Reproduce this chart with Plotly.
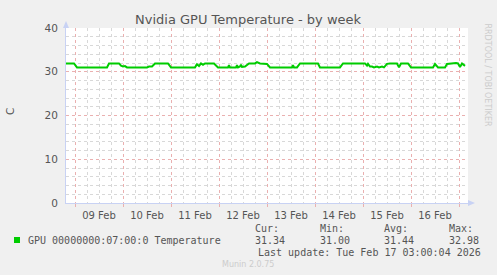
import plotly.graph_objects as go

# ---- data ----
times = [
    "2026-02-08 19:30", "2026-02-08 23:30", "2026-02-09 01:00", "2026-02-09 16:00",
    "2026-02-09 17:00", "2026-02-09 22:00", "2026-02-09 23:00", "2026-02-10 00:00",
    "2026-02-10 01:00", "2026-02-10 02:00", "2026-02-10 12:00", "2026-02-10 13:00",
    "2026-02-10 14:30", "2026-02-10 16:00", "2026-02-10 22:30", "2026-02-11 00:00",
    "2026-02-11 12:00", "2026-02-11 13:00", "2026-02-11 14:00", "2026-02-11 15:00",
    "2026-02-11 16:00", "2026-02-11 17:00", "2026-02-11 21:30", "2026-02-11 23:30",
    "2026-02-12 04:30", "2026-02-12 05:00", "2026-02-12 05:30", "2026-02-12 08:30",
    "2026-02-12 09:00", "2026-02-12 09:30", "2026-02-12 10:30", "2026-02-12 11:00",
    "2026-02-12 11:30", "2026-02-12 13:00", "2026-02-12 15:00", "2026-02-12 18:00",
    "2026-02-12 19:00", "2026-02-12 20:30", "2026-02-13 00:00", "2026-02-13 01:30",
    "2026-02-13 12:30", "2026-02-13 13:00", "2026-02-13 13:30", "2026-02-13 15:00",
    "2026-02-13 16:30", "2026-02-14 01:30", "2026-02-14 02:30", "2026-02-14 12:30",
    "2026-02-14 14:00", "2026-02-15 01:00", "2026-02-15 02:00", "2026-02-15 02:30",
    "2026-02-15 03:30", "2026-02-15 04:30", "2026-02-15 05:30", "2026-02-15 07:00",
    "2026-02-15 08:00", "2026-02-15 09:30", "2026-02-15 10:30", "2026-02-15 12:00",
    "2026-02-15 13:30", "2026-02-15 17:00", "2026-02-15 18:00", "2026-02-15 19:00",
    "2026-02-15 22:30", "2026-02-16 00:00", "2026-02-16 11:00", "2026-02-16 12:00",
    "2026-02-16 13:30", "2026-02-16 17:00", "2026-02-16 18:00", "2026-02-16 19:30",
    "2026-02-16 22:30", "2026-02-16 23:30", "2026-02-17 00:30", "2026-02-17 01:30",
    "2026-02-17 02:30", "2026-02-17 03:00",
]
temps = [
    31.9, 31.9, 31.0, 31.0,
    31.9, 31.9, 31.4, 31.2,
    31.3, 31.0, 31.0, 31.2,
    31.2, 31.9, 31.9, 31.0,
    31.0, 31.7, 31.3, 31.9,
    31.6, 31.9, 31.9, 31.0,
    31.0, 31.5, 31.0, 31.0,
    31.5, 31.0, 31.2, 31.6,
    31.1, 31.2, 31.9, 31.9,
    32.2, 31.9, 31.8, 31.0,
    31.0, 31.5, 31.0, 31.0,
    31.9, 31.9, 31.0, 31.0,
    31.9, 31.9, 31.4, 31.8,
    31.2, 31.2, 31.0, 31.2,
    31.0, 31.2, 31.0, 31.8,
    31.9, 31.9, 31.0, 31.9,
    31.9, 31.0, 31.0, 31.8,
    31.0, 31.0, 31.8, 31.9,
    32.0, 31.9, 31.1, 31.9,
    31.5, 31.34,
]
series_name = "GPU 00000000:07:00:0 Temperature"
stat_labels = ["Cur:", "Min:", "Avg:", "Max:"]
stat_values = ["31.34", "31.00", "31.44", "32.98"]
title = "Nvidia GPU Temperature - by week"
y_title = "C"
x_start, x_end = "2026-02-08 19:30", "2026-02-17 04:30"
last_update = "Last update: Tue Feb 17 03:00:04 2026"

# ---- layout geometry (pixels) ----
W, H = 497, 275
L, R, T, B = 66, 468, 28, 203
pw, ph = R - L, B - T


def px(X):
    return (X - L) / pw


def py(Y):
    return (B - Y) / ph


GREEN = "#00cc00"
AXIS = "#c8d2f4"
MAJOR = "#eab0b0"
MINOR = "#d8d8d8"
TXT = "#555555"

fig = go.Figure()
fig.add_trace(go.Scatter(x=times, y=temps, mode="lines",
                         line=dict(color=GREEN, width=2), showlegend=False,
                         hoverinfo="skip"))

fig.update_layout(
    width=W, height=H,
    margin=dict(l=L, r=W - R, t=T, b=H - B),
    paper_bgcolor="#f0f0f0", plot_bgcolor="#ffffff",
    font=dict(family="DejaVu Sans", size=10, color=TXT),
    showlegend=False,
)
fig.update_xaxes(
    type="date", range=[x_start, x_end],
    tick0="2026-02-09", dtick=86400000, tickformat="%d %b",
    ticklabelmode="period",
    showgrid=True, gridcolor=MAJOR, griddash="dot", gridwidth=1,
    ticks="outside", ticklen=3, tickcolor=MAJOR,
    showline=True, linecolor=AXIS, linewidth=1,
    tickfont=dict(size=10, color=TXT),
    minor=dict(dtick=21600000, tick0="2026-02-09", showgrid=True,
               gridcolor=MINOR, griddash="dot", gridwidth=1),
    zeroline=False,
    layer="below traces",
)
fig.update_yaxes(
    range=[0, 40], tick0=0, dtick=10,
    showgrid=True, gridcolor=MAJOR, griddash="dot", gridwidth=1,
    showline=True, linecolor=AXIS, linewidth=1,
    ticks="", ticklabelstandoff=5,
    tickfont=dict(size=10.5, color=TXT),
    minor=dict(dtick=2, showgrid=True, gridcolor=MINOR, griddash="dot", gridwidth=1),
    zeroline=False,
)

shapes = []
# arrow heads
shapes.append(dict(type="path", xref="paper", yref="paper",
                   path=f"M {px(L-3)} {py(28)} L {px(L+3)} {py(28)} L {px(L)} {py(21)} Z",
                   fillcolor=AXIS, line=dict(width=0)))
shapes.append(dict(type="path", xref="paper", yref="paper",
                   path=f"M {px(R)} {py(200)} L {px(R)} {py(206)} L {px(R+7)} {py(203)} Z",
                   fillcolor=AXIS, line=dict(width=0)))
# legend swatch
shapes.append(dict(type="rect", xref="paper", yref="paper",
                   x0=px(14), x1=px(20), y0=py(243), y1=py(237),
                   fillcolor=GREEN, line=dict(width=0)))
fig.update_layout(shapes=shapes)

MONO = dict(family="DejaVu Sans Mono", size=10, color=TXT)
ann = []
ann.append(dict(text=title, x=px(248), y=py(19), xref="paper", yref="paper",
                showarrow=False, xanchor="center", yanchor="middle",
                font=dict(family="DejaVu Sans", size=13, color=TXT)))
ann.append(dict(text=y_title, x=px(10), y=py(112), xref="paper", yref="paper",
                showarrow=False, textangle=-90, xanchor="center", yanchor="middle",
                font=dict(family="DejaVu Sans", size=10.5, color=TXT)))
ann.append(dict(text=series_name, x=px(26), y=py(240), xref="paper", yref="paper",
                showarrow=False, xanchor="left", yanchor="middle", font=MONO))
stat_x = [253, 318, 382, 447]
for sx, lab, val in zip(stat_x, stat_labels, stat_values):
    ann.append(dict(text=lab, x=px(sx), y=py(228), xref="paper", yref="paper",
                    showarrow=False, xanchor="left", yanchor="middle", font=MONO))
    ann.append(dict(text=val, x=px(sx), y=py(240), xref="paper", yref="paper",
                    showarrow=False, xanchor="left", yanchor="middle", font=MONO))
ann.append(dict(text=last_update, x=px(483), y=py(252), xref="paper", yref="paper",
                showarrow=False, xanchor="right", yanchor="middle", font=MONO))
ann.append(dict(text="Munin 2.0.75", x=px(248), y=py(264), xref="paper", yref="paper",
                showarrow=False, xanchor="center", yanchor="middle",
                font=dict(family="DejaVu Sans", size=8, color="#cccccc")))
ann.append(dict(text="RRDTOOL / TOBI OETIKER", x=px(487), y=py(21), xref="paper", yref="paper",
                showarrow=False, textangle=90, xanchor="center", yanchor="top",
                font=dict(family="DejaVu Sans", size=8, color="#cccccc")))
fig.update_layout(annotations=ann)

fig.write_html("out.html")
